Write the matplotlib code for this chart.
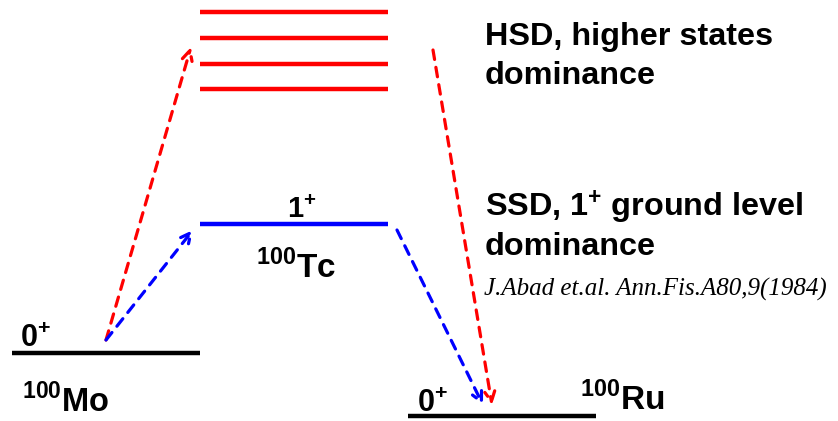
import matplotlib
matplotlib.use("Agg")
import matplotlib.pyplot as plt

plt.rcParams['mathtext.fontset'] = 'custom'
plt.rcParams['mathtext.rm'] = 'Liberation Sans'
plt.rcParams['mathtext.bf'] = 'Liberation Sans:bold'
plt.rcParams['font.family'] = 'Liberation Sans'

# energy levels (pixel-like coordinates, y grows downward)
level_x0 = [12, 200, 200, 200, 200, 200, 408]
level_x1 = [200, 388, 388, 388, 388, 388, 596]
level_y = [353, 224, 12, 38, 64, 89, 416]
level_col = ["black", "blue", "red", "red", "red", "red", "black"]

# transitions: start -> end
arr_start = [(106, 340), (106, 340), (397, 230), (433, 50)]
arr_end = [(191, 47), (193, 230), (483, 405), (492, 405)]
arr_col = ["red", "blue", "blue", "red"]

# level labels
lab_text = [r"$\mathbf{0}^{\mathbf{+}}$", r"$^{\mathbf{100}}\mathbf{Mo}$",
            r"$\mathbf{1}^{\mathbf{+}}$", r"$^{\mathbf{100}}\mathbf{Tc}$",
            r"$\mathbf{0}^{\mathbf{+}}$", r"$^{\mathbf{100}}\mathbf{Ru}$"]
lab_x = [20, 22, 287, 256, 417, 580]
lab_y = [347, 412, 218, 278, 412, 410]
lab_size = [22, 23.5, 21, 24, 22, 24]

# side notes, one entry per line
note_text = ["HSD, higher states", "dominance",
             "SSD, $\\mathbf{1^{+}}$ ground level", "dominance"]
note_y = [45, 84, 217, 255]
cite = "J.Abad et.al. Ann.Fis.A80,9(1984)"

fig = plt.figure(figsize=(8.38, 4.21), dpi=100)
ax = fig.add_axes([0, 0, 1, 1])
ax.set_xlim(0, 838)
ax.set_ylim(421, 0)
ax.axis("off")

for x0, x1, y, c in zip(level_x0, level_x1, level_y, level_col):
    ax.plot([x0, x1], [y, y], color=c, lw=3.2, solid_capstyle="butt")

for s, e, c in zip(arr_start, arr_end, arr_col):
    ax.annotate("", xy=e, xytext=s,
                arrowprops=dict(arrowstyle="->", linestyle=(0, (3, 2.5)), color=c,
                                lw=2.3, shrinkA=0, shrinkB=0,
                                mutation_scale=18))

for t, x, y, s in zip(lab_text, lab_x, lab_y, lab_size):
    ax.text(x, y, t, fontsize=s, ha="left", va="baseline")

for t, y in zip(note_text, note_y):
    ax.text(485, y, t, fontsize=23.3, fontweight="bold", ha="left", va="baseline")

ax.text(484, 296, cite, fontsize=18, family="Liberation Serif", style="italic",
        ha="left", va="baseline")

fig.savefig("out.png", dpi=100)
